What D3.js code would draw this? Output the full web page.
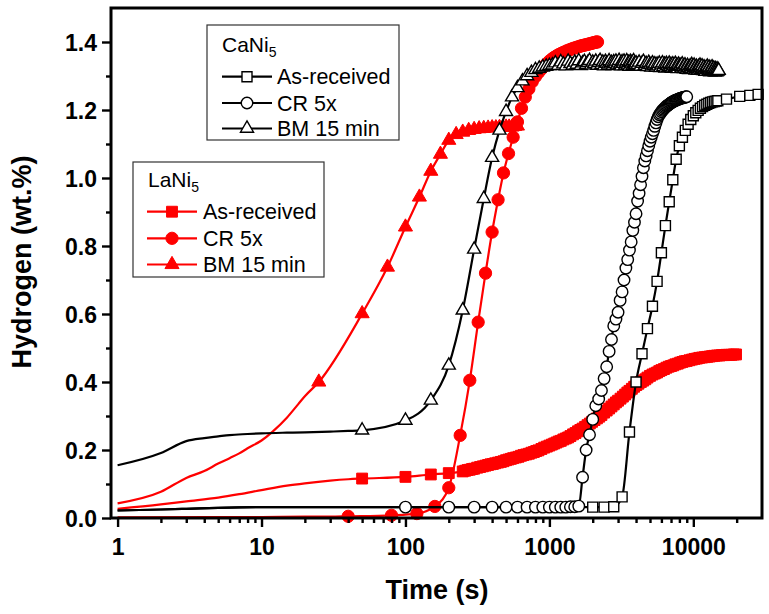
<!DOCTYPE html>
<html><head><meta charset="utf-8">
<script src="https://cdn.jsdelivr.net/npm/d3@7"></script>
<style>body{margin:0;background:#fff}svg{display:block}</style>
</head><body>
<svg id="c" width="769" height="614"></svg>
<script>
// ---------------- DATA ----------------
const legendLabels = ["As-received", "CR 5x", "BM 15 min"];
const xMajorTicks = [1, 10, 100, 1000, 10000];
const xMinorTicks = [2,3,4,5,6,7,8,9,20,30,40,50,60,70,80,90,200,300,400,500,600,700,800,900,2000,3000,4000,5000,6000,7000,8000,9000,20000];
const yMajorTicks = [0.0,0.2,0.4,0.6,0.8,1.0,1.2,1.4];
const yMinorTicks = [0.1,0.3,0.5,0.7,0.9,1.1,1.3];

// CaNi5 As-received (black open squares)
const caAsLineT = [1,2,3,5,10,30,100,300,1000,1500];
const caAsLineH = [0.022,0.025,0.027,0.030,0.032,0.032,0.032,0.032,0.032,0.032];
const caAsT = [2000,2400,2800,3200,3600,4000,4400,4800,5200,5600,6000,6400,6800,7200,7600,8000,8400,8800,9200,9600,10000,10400,10800,11200,11600,12000,12400,12800,13200,13600,14000,14400,14800,17000,21000,24700,28200];
const caAsH = [0.032,0.032,0.033,0.062,0.253,0.400,0.483,0.557,0.623,0.696,0.780,0.860,0.930,0.995,1.055,1.095,1.120,1.140,1.158,1.172,1.183,1.192,1.199,1.205,1.210,1.214,1.217,1.220,1.222,1.224,1.225,1.226,1.227,1.232,1.240,1.243,1.246];

// CaNi5 CR 5x (black open circles)
const caCrLineT = [1,2,3,5,10,30,50];
const caCrLineH = [0.022,0.025,0.027,0.030,0.032,0.032,0.032];
const caCrT = [100,200,300,400,500,600,700,800,900,1000,1100,1200,1300,1400,1500,1600,1700,1800,1900,2000,2100,2200,2300,2400,2500,2600,2700,2800,2900,3000,3100,3200,3300,3400,3500,3600,3700,3800,3900,4000,4100,4200,4300,4400,4500,4600,4700,4800,4900,5000,5100,5200,5300,5400,5500,5600,5700,5800,5900,6000,6100,6200,6300,6400,6500,6600,6700,6800,6900,7000,7100,7200,7300,7400,7500,7600,7700,7800,7900,8000,8100,8200,8300,8400,8500,8600,8700,8800,8900,9000];
const caCrH = [0.032,0.032,0.032,0.032,0.032,0.032,0.032,0.032,0.032,0.032,0.032,0.032,0.032,0.033,0.033,0.035,0.120,0.200,0.245,0.290,0.330,0.350,0.375,0.410,0.445,0.490,0.525,0.565,0.585,0.605,0.640,0.665,0.700,0.735,0.760,0.788,0.812,0.846,0.870,0.895,0.932,0.955,0.980,1.005,1.030,1.050,1.065,1.080,1.095,1.108,1.120,1.130,1.140,1.152,1.162,1.172,1.180,1.186,1.190,1.195,1.199,1.202,1.205,1.208,1.211,1.213,1.215,1.217,1.219,1.221,1.223,1.224,1.226,1.227,1.228,1.229,1.230,1.231,1.232,1.233,1.234,1.235,1.235,1.236,1.237,1.237,1.238,1.238,1.239,1.239];

// CaNi5 BM 15 min (black open triangles)
const caBmLineT = [1,2,3,4,5,6,8,10,15,20,30,40];
const caBmLineH = [0.155,0.191,0.226,0.235,0.240,0.244,0.247,0.249,0.251,0.252,0.254,0.256];
const caBmT = [50,100,150,200,250,300,350,400,450,500,550,600,650,700,750,800,850,900,950,1000,
  1050,1100,1150,1200,1250,1300,1350,1400,1450,1500,1550,1600,1650,1700,1750,1800,1850,1900,1950,2000,
  2050,2100,2150,2200,2250,2300,2350,2400,2450,2500,2550,2600,2650,2700,2750,2800,2850,2900,2950,3000,
  3050,3100,3150,3200,3250,3300,3350,3400,3450,3500,3550,3600,3650,3700,3750,3800,3850,3900,3950,4000,
  4100,4200,4300,4400,4500,4600,4700,4800,4900,5000,5100,5200,5300,5400,5500,5600,5700,5800,5900,6000,
  6100,6200,6300,6400,6500,6600,6700,6800,6900,7000,7100,7200,7300,7400,7500,7600,7700,7800,7900,8000,
  8125,8250,8375,8500,8625,8750,8875,9000,9125,9250,9375,9500,9625,9750,9875,10000,10125,10250,10375,10500,
  10625,10750,10875,11000,11125,11250,11375,11500,11625,11750,11875,12000,12125,12250,12375,12500,12625,12750,12875,13000,
  13125,13250,13375,13500,13625,13750,13875,14000,14125,14250,14375,14500,14625,14750,14875,15000];
const caBmH = [0.258,0.287,0.346,0.449,0.611,0.790,0.939,1.060,1.140,1.195,1.238,1.265,1.285,1.300,1.310,1.318,1.322,1.326,1.328,1.330,
  1.332,1.338,1.330,1.341,1.335,1.329,1.343,1.336,1.331,1.340,1.334,1.344,1.330,1.338,1.342,1.333,1.339,1.345,1.332,1.340,
  1.336,1.343,1.331,1.339,1.345,1.333,1.340,1.329,1.342,1.337,1.331,1.344,1.335,1.339,1.330,1.341,1.336,1.343,1.332,1.338,
  1.345,1.334,1.329,1.341,1.337,1.343,1.330,1.336,1.344,1.332,1.339,1.328,1.342,1.335,1.340,1.331,1.344,1.336,1.333,1.338,
  1.333,1.340,1.328,1.337,1.342,1.330,1.336,1.327,1.339,1.333,1.326,1.338,1.331,1.335,1.325,1.334,1.329,1.337,1.324,1.332,
  1.338,1.327,1.334,1.323,1.336,1.330,1.325,1.337,1.328,1.333,1.322,1.335,1.329,1.324,1.336,1.327,1.331,1.321,1.334,1.328,
  1.330,1.323,1.335,1.327,1.321,1.332,1.326,1.319,1.330,1.324,1.318,1.329,1.322,1.333,1.327,1.320,1.331,1.324,1.317,1.328,
  1.322,1.316,1.327,1.320,1.331,1.325,1.318,1.329,1.321,1.315,1.326,1.319,1.313,1.324,1.318,1.328,1.321,1.314,1.325,1.317,
  1.312,1.323,1.316,1.326,1.319,1.313,1.322,1.315,1.311,1.321,1.316,1.312,1.320,1.314,1.318,1.316];

// LaNi5 As-received (red filled squares)
const laAsLineT = [1,2,3,5,7,10,15,20,30,40];
const laAsLineH = [0.027,0.040,0.049,0.060,0.070,0.082,0.095,0.102,0.110,0.114];
const laAsT = [50,100,150,200,250,260,270,280,290,300,315,330,345,360,375,390,405,420,440,460,480,500,520,540,560,585,610,635,660,690,720,750,780,
  810,840,880,920,960,1000,1040,1080,1120,1160,1200,1250,1300,1350,1400,1460,1520,1580,1640,1700,1770,1840,1910,1980,2060,2140,2220,2300,
  2400,2500,2600,2700,2800,2900,3000,3120,3240,3360,3480,3600,3740,3880,4020,4160,4320,4480,4640,4800,5000,5200,5400,5600,5800,6000,6250,6500,
  6750,7000,7250,7500,7800,8100,8400,8700,9000,9400,9800,10200,10600,11000,11500,12000,12500,13000,13500,14000,14600,15200,15800,16400,17000,17700,18400,19100,19800];
const laAsH = [0.116,0.121,0.128,0.132,0.137,0.139,0.141,0.142,0.144,0.145,0.148,0.150,0.152,0.154,0.156,0.158,0.159,0.161,0.163,0.165,0.167,0.170,0.172,0.174,0.176,0.178,0.180,0.183,0.185,0.187,0.189,0.192,0.194,
  0.197,0.199,0.203,0.207,0.210,0.213,0.216,0.219,0.222,0.225,0.227,0.231,0.234,0.237,0.241,0.246,0.250,0.255,0.259,0.263,0.268,0.273,0.278,0.283,0.288,0.293,0.298,0.303,
  0.310,0.316,0.322,0.328,0.334,0.340,0.345,0.351,0.357,0.363,0.369,0.374,0.380,0.386,0.391,0.395,0.400,0.404,0.408,0.413,0.418,0.422,0.425,0.428,0.432,0.435,0.438,0.442,
  0.445,0.447,0.449,0.452,0.454,0.457,0.459,0.461,0.462,0.464,0.466,0.468,0.469,0.471,0.472,0.473,0.474,0.475,0.476,0.477,0.478,0.478,0.479,0.479,0.480,0.480,0.480,0.481,0.481];

// LaNi5 CR 5x (red filled circles)
const laCrLineT = [1,10,20,30];
const laCrLineH = [0.002,0.003,0.004,0.004];
const laCrT = [40,80,120,160,200,240,280,320,360,400,440,480,520,560,600,640,680,720,760,800,840,880,920,960,1000,1040,1080,1120,1160,1200,1240,1280,1320,1360,1400,1440,1480,1520,1560,1600,1640,1680,1720,1760,1800,1840,1880,1920,1960,2000,2040,2080,2120,2160];
const laCrH = [0.005,0.008,0.013,0.034,0.089,0.243,0.405,0.576,0.720,0.841,0.936,1.015,1.072,1.120,1.165,1.205,1.238,1.262,1.283,1.298,1.310,1.320,1.329,1.337,1.344,1.350,1.355,1.359,1.363,1.366,1.369,1.371,1.374,1.376,1.378,1.380,1.382,1.383,1.385,1.386,1.388,1.389,1.390,1.391,1.392,1.393,1.394,1.395,1.396,1.397,1.398,1.399,1.400,1.400];

// LaNi5 BM 15 min (red filled triangles)
const laBmLineT = [1,2,3,4,5,6,7,8,10,12,15,18,20];
const laBmLineH = [0.043,0.077,0.118,0.138,0.160,0.176,0.190,0.205,0.228,0.255,0.295,0.335,0.358];
const laBmT = [25,50,75,100,125,150,175,200,225,250,275,300,325,350,375,400,425,450,475,500,525,550,575,600];
const laBmH = [0.400,0.601,0.738,0.856,0.944,1.020,1.070,1.111,1.128,1.135,1.140,1.143,1.145,1.146,1.147,1.148,1.148,1.149,1.149,1.150,1.150,1.150,1.152,1.153];

// ---------------- CHART ----------------
const RED = "#ff0000", BLACK = "#000";
const FONT = "'Liberation Sans', Arial, Helvetica, sans-serif";
const svg = d3.select("#c").style("font-family", FONT);
const x = d3.scaleLog().domain([0.9, 30000]).range([111, 762]);
const y = d3.scaleLinear().domain([0, 1.5]).range([518, 8]);
const zip = (T, H) => T.map((t, i) => [t, H[i]]);
const lineGen = d3.line().x(d => x(d[0])).y(d => y(d[1])).curve(d3.curveMonotoneX);

const shapes = { square: d3.symbolSquare, circle: d3.symbolCircle, triangle: d3.symbolTriangle };
const styles = {
  black: { color: BLACK, fill: "#fff", sw: 1.4, sizes: { square: 100, circle: 104, triangle: 74 } },
  red:   { color: RED,   fill: RED,    sw: 1,   sizes: { square: 118, circle: 118, triangle: 86 } }
};

function drawSeries(lineT, lineH, T, H, kind, shape) {
  const st = styles[kind];
  const g = svg.append("g");
  const pts = zip(T, H);
  g.append("path").datum(zip(lineT, lineH).concat(pts))
    .attr("d", lineGen).attr("fill", "none").attr("stroke", st.color).attr("stroke-width", 2.2);
  const sym = d3.symbol().type(shapes[shape]).size(st.sizes[shape]);
  g.selectAll("path.m").data(pts).join("path").attr("class", "m")
    .attr("d", sym)
    .attr("transform", d => `translate(${x(d[0])},${y(d[1])})`)
    .attr("fill", st.fill).attr("stroke", st.color).attr("stroke-width", st.sw);
}

// red (LaNi5) first, black (CaNi5) on top
drawSeries(laAsLineT, laAsLineH, laAsT, laAsH, "red", "square");
drawSeries(laCrLineT, laCrLineH, laCrT, laCrH, "red", "circle");
drawSeries(laBmLineT, laBmLineH, laBmT, laBmH, "red", "triangle");
drawSeries(caAsLineT, caAsLineH, caAsT, caAsH, "black", "square");
drawSeries(caCrLineT, caCrLineH, caCrT, caCrH, "black", "circle");
drawSeries(caBmLineT, caBmLineH, caBmT, caBmH, "black", "triangle");

// ---------------- AXES ----------------
const [x0, x1] = x.range(), [yb, yt] = y.range();
function styleAxis(g) {
  g.select(".domain").remove();
  g.selectAll(".tick line").attr("stroke", "#000").attr("stroke-width", 2.4);
}
svg.append("g").attr("transform", `translate(0,${yb})`)
  .call(d3.axisBottom(x).tickValues(xMinorTicks).tickSize(5).tickSizeOuter(0).tickFormat(""))
  .call(styleAxis);
const gxM = svg.append("g").attr("transform", `translate(0,${yb})`)
  .call(d3.axisBottom(x).tickValues(xMajorTicks).tickSize(9).tickSizeOuter(0).tickFormat(d3.format("d")))
  .call(styleAxis);
gxM.selectAll("text").attr("y", 37).attr("dy", 0).attr("fill", "#000")
  .style("font-size", "23px").style("font-weight", "bold").style("font-family", FONT);

svg.append("g").attr("transform", `translate(${x0},0)`)
  .call(d3.axisLeft(y).tickValues(yMinorTicks).tickSize(5).tickSizeOuter(0).tickFormat(""))
  .call(styleAxis);
const gyM = svg.append("g").attr("transform", `translate(${x0},0)`)
  .call(d3.axisLeft(y).tickValues(yMajorTicks).tickSize(9).tickSizeOuter(0).tickFormat(d3.format(".1f")))
  .call(styleAxis);
gyM.selectAll("text").attr("x", -14).attr("dy", "0.36em").attr("fill", "#000")
  .style("font-size", "23px").style("font-weight", "bold").style("font-family", FONT);

// frame
svg.append("rect").attr("x", x0).attr("y", yt).attr("width", x1 - x0).attr("height", yb - yt)
  .attr("fill", "none").attr("stroke", "#000").attr("stroke-width", 3);

// axis titles
svg.append("text").attr("x", 437).attr("y", 599).attr("text-anchor", "middle")
  .style("font-size", "27px").style("font-weight", "bold").text("Time (s)");
svg.append("text").attr("transform", "translate(31,262) rotate(-90)").attr("text-anchor", "middle")
  .style("font-size", "27px").style("font-weight", "bold").text("Hydrogen (wt.%)");

// ---------------- LEGENDS ----------------
function legend(box, titleBase, kind, rows, lineX0, lineX1, textX, titleX, titleY) {
  const st = styles[kind];
  const g = svg.append("g");
  g.append("rect").attr("x", box[0]).attr("y", box[1]).attr("width", box[2]).attr("height", box[3])
    .attr("fill", "#fff").attr("stroke", "#333").attr("stroke-width", 1.2);
  const t = g.append("text").attr("x", titleX).attr("y", titleY).style("font-size", "21px");
  t.append("tspan").text(titleBase);
  t.append("tspan").attr("dy", 5).style("font-size", "14px").text("5");
  const shp = ["square", "circle", "triangle"];
  legendLabels.forEach((lab, i) => {
    const yy = rows[i];
    g.append("line").attr("x1", lineX0).attr("x2", lineX1).attr("y1", yy).attr("y2", yy)
      .attr("stroke", st.color).attr("stroke-width", 2.2);
    g.append("path").attr("d", d3.symbol().type(shapes[shp[i]]).size(st.sizes[shp[i]])())
      .attr("transform", `translate(${(lineX0 + lineX1) / 2},${yy})`)
      .attr("fill", st.fill).attr("stroke", st.color).attr("stroke-width", st.sw);
    g.append("text").attr("x", textX).attr("y", yy).attr("dy", "0.36em")
      .style("font-size", "21.5px").text(lab);
  });
}
legend([207, 25, 192, 115], "CaNi", "black", [76.7, 103, 128.5], 222, 272, 277, 222, 52);
legend([133, 162, 191, 115], "LaNi", "red", [211.7, 238.3, 264.5], 147, 197, 203, 148, 187);
</script>
</body></html>
